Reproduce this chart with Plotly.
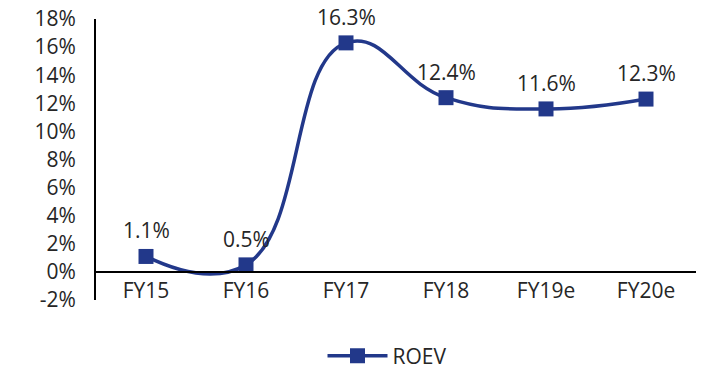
import plotly.graph_objects as go

categories = ["FY15", "FY16", "FY17", "FY18", "FY19e", "FY20e"]
roev = [1.1, 0.5, 16.3, 12.4, 11.6, 12.3]
labels = ["1.1%", "0.5%", "16.3%", "12.4%", "11.6%", "12.3%"]
series_name = "ROEV"
y_tickvals = [-2, 0, 2, 4, 6, 8, 10, 12, 14, 16, 18]
y_ticktext = ["-2%", "0%", "2%", "4%", "6%", "8%", "10%", "12%", "14%", "16%", "18%"]

color = "#22388A"
text_color = "#262626"
font_family = "Open Sans, Noto Sans, sans-serif"
fs = 21

fig = go.Figure()
fig.add_trace(go.Scatter(
    x=categories, y=roev, name=series_name,
    mode="lines+markers",
    line=dict(color=color, width=3.5, shape="spline", smoothing=1.3),
    marker=dict(symbol="square", size=15, color=color),
))

for c, v, t in zip(categories, roev, labels):
    fig.add_annotation(x=c, y=v, text=t, showarrow=False, yshift=26,
                       font=dict(size=fs, color=text_color, family=font_family))

fig.update_layout(
    width=702, height=371,
    margin=dict(l=96, r=6, t=19, b=71, autoexpand=False),
    paper_bgcolor="white", plot_bgcolor="white",
    font=dict(family=font_family, size=fs, color=text_color),
    showlegend=True,
    legend=dict(orientation="h", x=0.485, xanchor="center", y=-0.2, yanchor="middle",
                itemwidth=60,
                font=dict(size=fs, color=text_color)),
    xaxis=dict(
        type="category", anchor="free", position=0.1,
        showline=True, linecolor="black", linewidth=2,
        ticks="", showgrid=False, zeroline=False, automargin=False,
        tickfont=dict(size=fs, color=text_color),
        range=[-0.5, 5.5],
    ),
    yaxis=dict(
        range=[-2, 18], tickvals=y_tickvals, ticktext=y_ticktext,
        showline=True, linecolor="black", linewidth=2,
        showgrid=False, zeroline=False, ticks="", automargin=False,
        ticklabelstandoff=14,
        tickfont=dict(size=fs, color=text_color),
    ),
)

fig.write_html("out.html")
